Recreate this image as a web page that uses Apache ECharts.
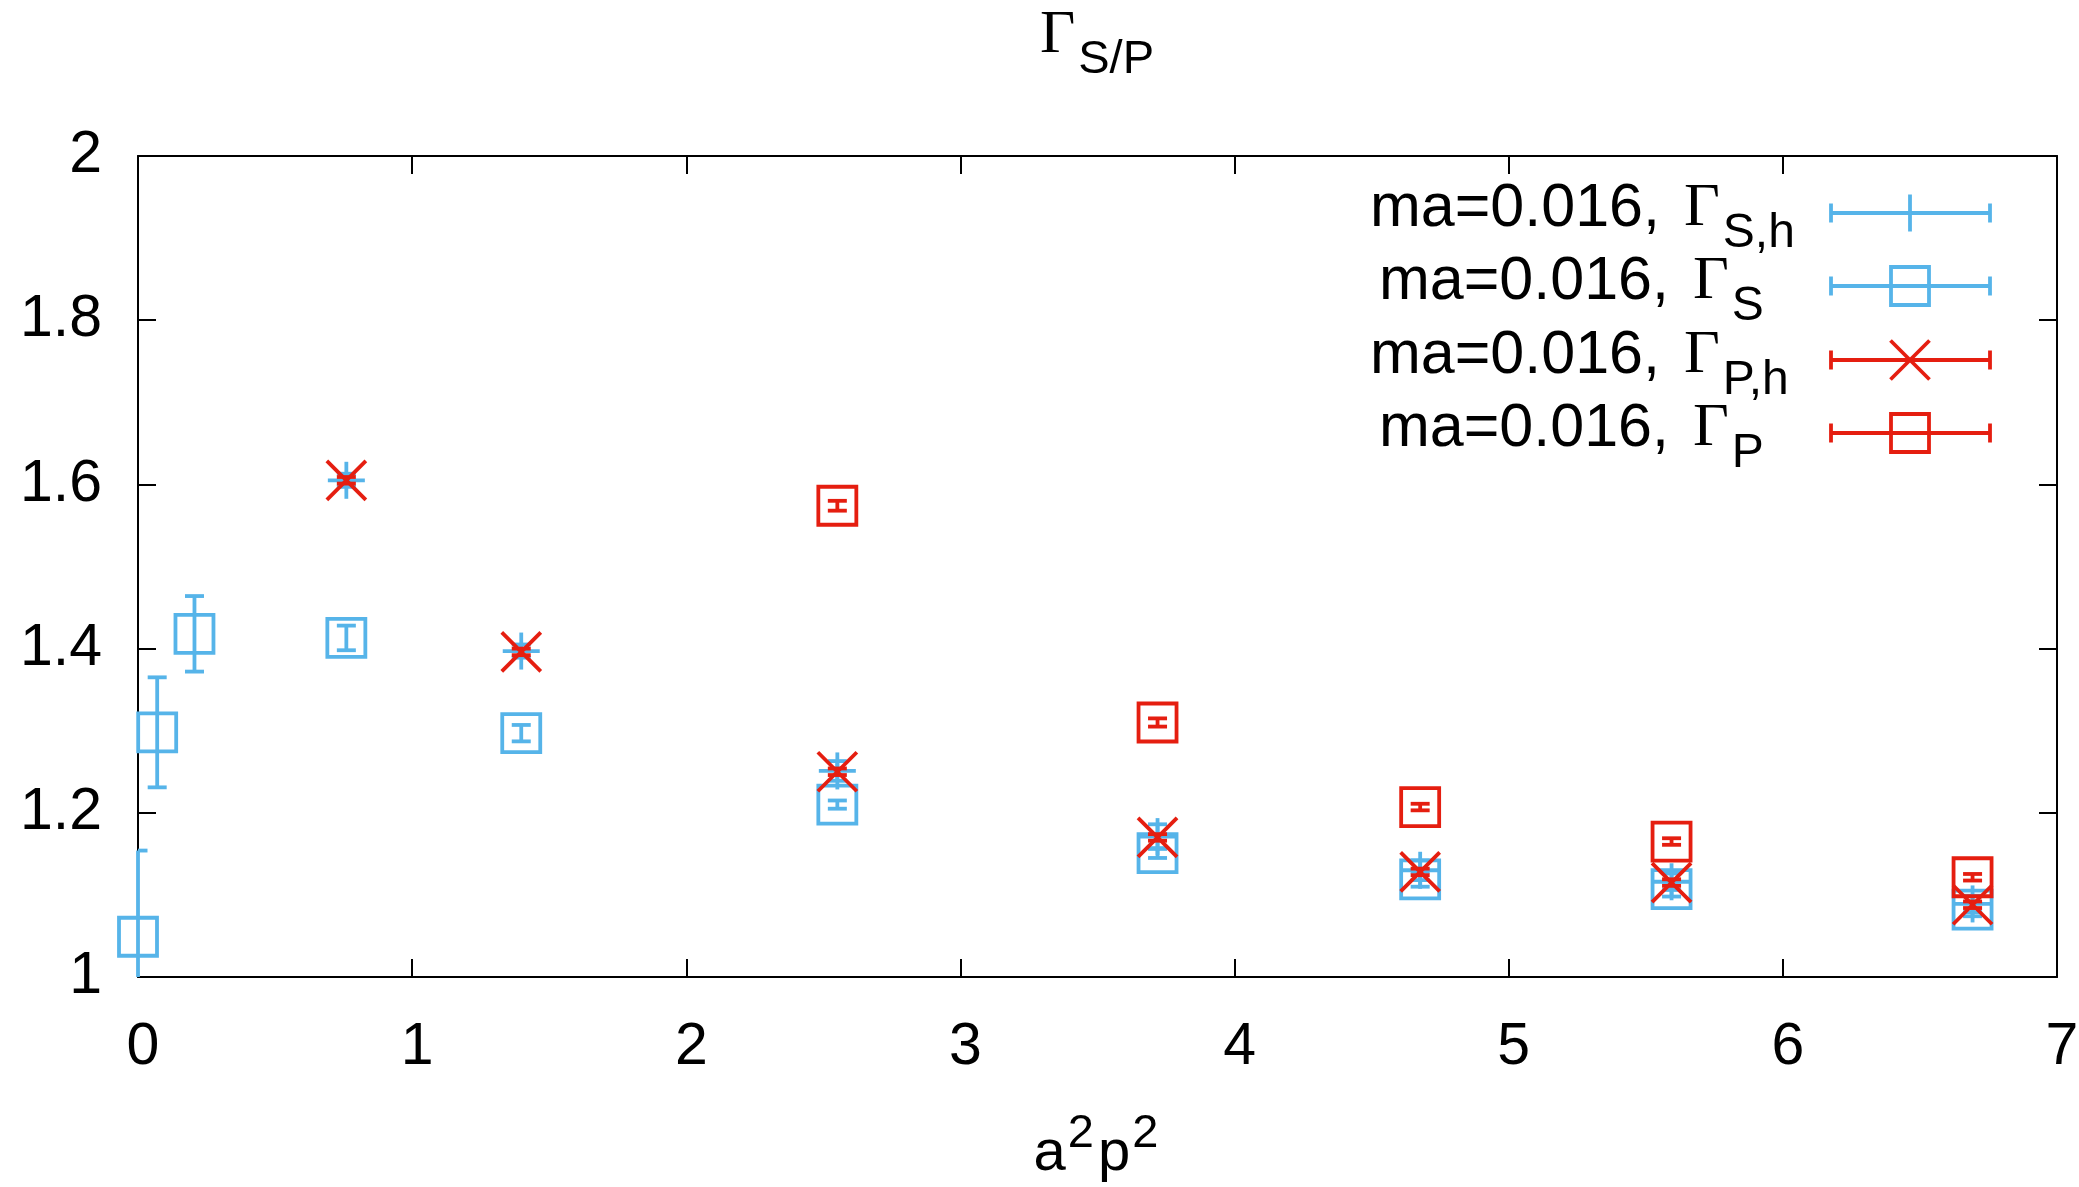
<!DOCTYPE html>
<html><head><meta charset="utf-8">
<script src="https://cdn.jsdelivr.net/npm/echarts@6/dist/echarts.min.js"></script>
<style>html,body{margin:0;padding:0;background:#fff}#c{width:2079px;height:1187px}</style>
</head><body><div id="c"></div>
<script>
// ---- data ----
const xTickStep = 1;
const yTickStep = 0.2;

// Gamma_S (blue squares)
const xS   = [0.0, 0.07, 0.206, 0.76, 1.398, 2.551, 3.719, 4.677, 5.594, 6.692];
const valS = [1.049, 1.298, 1.418, 1.413, 1.297, 1.210, 1.151, 1.119, 1.107, 1.082];
const errS = [0.105, 0.067, 0.046, 0.015, 0.010, 0.005, 0.006, 0.009, 0.009, 0.008];

// Gamma_S,h (blue +) and Gamma_P,h (red x)
const xH    = [0.76, 1.398, 2.551, 3.719, 4.677, 5.594, 6.692];
const valSh = [1.605, 1.397, 1.251, 1.171, 1.130, 1.116, 1.089];
const errSh = [0.008, 0.008, 0.012, 0.015, 0.012, 0.010, 0.010];
const valPh = [1.605, 1.396, 1.250, 1.170, 1.128, 1.115, 1.088];
const errPh = [0.004, 0.004, 0.004, 0.004, 0.004, 0.004, 0.004];

// Gamma_P (red squares)
const xP   = [2.551, 3.719, 4.677, 5.594, 6.692];
const valP = [1.574, 1.310, 1.207, 1.165, 1.1215];
const errP = [0.006, 0.005, 0.004, 0.004, 0.004];

const legendMain = ['ma=0.016,', 'ma=0.016,', 'ma=0.016,', 'ma=0.016,'];
const legendSub  = ['S,h', 'S', 'P,h', 'P'];
const titleSub = 'S/P';

// ---- style ----
const BLUE = '#56b4e9', RED = '#e51e10';
const LW = 3.8, CAP = 9.5, SQ = 19, XS = 19.5, PS = 18.5;
const SANS = 'Liberation Sans', SERIF = 'Liberation Serif';
const FS = 59, FL = 61, FSUB = 47;

function marker(ch, kind, cx, cy, st) {
  if (kind === 'square') {
    ch.push({type:'rect', shape:{x:cx-SQ, y:cy-SQ, width:2*SQ, height:2*SQ}, style:st});
  } else if (kind === 'cross') {
    ch.push({type:'line', shape:{x1:cx-XS, y1:cy-XS, x2:cx+XS, y2:cy+XS}, style:st});
    ch.push({type:'line', shape:{x1:cx-XS, y1:cy+XS, x2:cx+XS, y2:cy-XS}, style:st});
  } else if (kind === 'plus') {
    ch.push({type:'line', shape:{x1:cx-PS, y1:cy, x2:cx+PS, y2:cy}, style:st});
    ch.push({type:'line', shape:{x1:cx, y1:cy-PS, x2:cx, y2:cy+PS}, style:st});
  }
}

function makeRender(kind, color) {
  return function (params, api) {
    const x = api.value(0), y = api.value(1), e = api.value(2);
    const c = api.coord([x, y]);
    const pt = api.coord([x, y + e]);
    const pb = api.coord([x, y - e]);
    const cs = params.coordSys;
    const yTop = cs.y, yBot = cs.y + cs.height, xL = cs.x, xR = cs.x + cs.width;
    const st = {stroke: color, lineWidth: LW, fill: null};
    const ch = [];
    const y1 = Math.max(pt[1], yTop), y2 = Math.min(pb[1], yBot);
    ch.push({type:'line', shape:{x1:c[0], y1:y1, x2:c[0], y2:y2}, style:st});
    const cap = function (yy) {
      if (yy >= yTop && yy <= yBot) {
        ch.push({type:'line', shape:{x1:Math.max(c[0]-CAP, xL), y1:yy, x2:Math.min(c[0]+CAP, xR), y2:yy}, style:st});
      }
    };
    cap(pt[1]); cap(pb[1]);
    marker(ch, kind, c[0], c[1], st);
    return {type:'group', children: ch};
  };
}

function zip(xs, vs, es) { return xs.map(function (x, i) { return [x, vs[i], es[i]]; }); }

// ---- text helpers ----
const mctx = document.createElement('canvas').getContext('2d');
function tw(t, size, fam) { mctx.font = size + 'px "' + fam + '"'; return mctx.measureText(t).width; }
function txt(t, x, baseline, size, fam) {
  return {type:'text', x:x, y: baseline - 0.3465*size, z:100,
    style:{text:t, font: size + 'px "' + fam + '"', fill:'#000',
      align:'left', textAlign:'left', verticalAlign:'middle', textVerticalAlign:'middle'}};
}

const graphics = [];
// title
(function () {
  const gF = 61;
  const wG = tw('Γ', gF, SERIF), wS = tw(titleSub, FSUB, SANS);
  const x0 = 1097 - (wG + 3 + wS) / 2;
  graphics.push(txt('Γ', x0, 57, gF, SERIF));
  graphics.push(txt(titleSub, x0 + wG + 3, 76, FSUB, SANS));
})();
// x axis name a^2p^2
(function () {
  const fa = 58;
  const wa = tw('a', fa, SANS), w2 = tw('2', FSUB, SANS), wp = tw('p', fa, SANS);
  const total = wa + 2 + w2 + 4 + wp + 2 + w2;
  let x = 1096 - total / 2;
  const b = 1174;
  graphics.push(txt('a', x, b, fa, SANS)); x += wa + 2;
  graphics.push(txt('2', x, b - 24, FSUB, SANS)); x += w2 + 4;
  graphics.push(txt('p', x, b, fa, SANS)); x += wp + 2;
  graphics.push(txt('2', x, b - 24, FSUB, SANS));
})();
// legend
(function () {
  const rows = [213, 286, 360, 433];
  const starts = [1370, 1379, 1370, 1379];
  const kinds = ['plus', 'square', 'cross', 'square'];
  const cols = [BLUE, BLUE, RED, RED];
  const lx1 = 1831, lx2 = 1990, mx = 1910;
  for (let i = 0; i < 4; i++) {
    const ry = rows[i];
    const b = ry + 17;
    let x = starts[i];
    graphics.push(txt(legendMain[i], x, b, FL, SANS));
    x += tw(legendMain[i], FL, SANS) + 24;
    graphics.push(txt('Γ', x, b, FL + 1, SERIF));
    x += tw('Γ', FL + 1, SERIF) + 3;
    graphics.push(txt(legendSub[i], x, b + 20, FSUB + 1, SANS));
    const st = {stroke: cols[i], lineWidth: LW, fill: null};
    const ch = [];
    ch.push({type:'line', shape:{x1:lx1, y1:ry, x2:lx2, y2:ry}, style:st});
    ch.push({type:'line', shape:{x1:lx1, y1:ry-9.5, x2:lx1, y2:ry+9.5}, style:st});
    ch.push({type:'line', shape:{x1:lx2, y1:ry-9.5, x2:lx2, y2:ry+9.5}, style:st});
    marker(ch, kinds[i], mx, ry, st);
    graphics.push({type:'group', z:100, children: ch});
  }
})();

const axLine = {show:true, onZero:false, lineStyle:{color:'#000', width:2}};
const axTick = {show:true, inside:true, length:18, lineStyle:{color:'#000', width:2}};
const labelStyle = {fontSize: FS, fontFamily: SANS, color:'#000'};

const chart = echarts.init(document.getElementById('c'), null, {renderer:'canvas'});
chart.setOption({
  animation: false,
  backgroundColor: '#fff',
  grid: {left:138, right:22, top:156, bottom:210, show:false, containLabel:false, outerBoundsMode:'none'},
  xAxis: [
    {type:'value', min:0, max:7, interval:xTickStep, position:'bottom', axisLine:axLine, axisTick:axTick,
     axisLabel:Object.assign({margin:41, padding:[0,0,0,10]}, labelStyle), splitLine:{show:false}},
    {type:'value', min:0, max:7, interval:xTickStep, position:'top', axisLine:axLine, axisTick:axTick,
     axisLabel:{show:false}, splitLine:{show:false}}
  ],
  yAxis: [
    {type:'value', min:1, max:2, interval:yTickStep, position:'left', axisLine:axLine, axisTick:axTick,
     axisLabel:Object.assign({margin:36}, labelStyle), splitLine:{show:false}},
    {type:'value', min:1, max:2, interval:yTickStep, position:'right', axisLine:axLine, axisTick:axTick,
     axisLabel:{show:false}, splitLine:{show:false}}
  ],
  graphic: {elements: graphics},
  series: [
    {type:'custom', name:'S,h', clip:false, silent:true, renderItem: makeRender('plus', BLUE), data: zip(xH, valSh, errSh), encode:{x:0, y:1}, z:2},
    {type:'custom', name:'S', clip:false, silent:true, renderItem: makeRender('square', BLUE), data: zip(xS, valS, errS), encode:{x:0, y:1}, z:3},
    {type:'custom', name:'P,h', clip:false, silent:true, renderItem: makeRender('cross', RED), data: zip(xH, valPh, errPh), encode:{x:0, y:1}, z:4},
    {type:'custom', name:'P', clip:false, silent:true, renderItem: makeRender('square', RED), data: zip(xP, valP, errP), encode:{x:0, y:1}, z:5}
  ]
});
</script>
</body></html>
